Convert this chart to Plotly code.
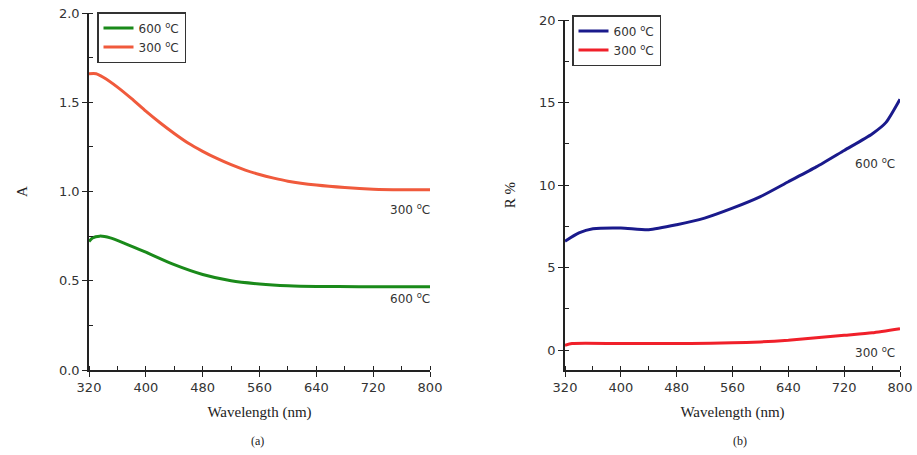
import plotly.graph_objects as go

wl_a300 = [320, 330, 340, 360, 380, 400, 420, 440, 460, 480, 500, 520, 540, 560, 580, 600, 640, 680, 720, 760, 800]
a_300 = [1.66, 1.66, 1.64, 1.585, 1.52, 1.45, 1.385, 1.325, 1.27, 1.225, 1.185, 1.15, 1.12, 1.095, 1.075, 1.058, 1.036, 1.022, 1.013, 1.01, 1.01]
wl_a600 = [320, 325, 335, 350, 370, 400, 440, 480, 520, 560, 600, 640, 700, 800]
a_600 = [0.72, 0.74, 0.75, 0.74, 0.71, 0.66, 0.59, 0.535, 0.50, 0.482, 0.472, 0.468, 0.467, 0.467]

wl_r600 = [320, 340, 360, 400, 440, 480, 520, 560, 600, 640, 680, 720, 760, 780, 800]
r_600 = [6.6, 7.1, 7.35, 7.4, 7.3, 7.6, 8.0, 8.6, 9.3, 10.2, 11.1, 12.1, 13.1, 13.8, 15.2]
wl_r300 = [320, 330, 400, 500, 560, 600, 640, 680, 720, 760, 800]
r_300 = [0.3, 0.4, 0.4, 0.4, 0.45, 0.5, 0.6, 0.75, 0.9, 1.05, 1.3]

x_ticks = [320, 400, 480, 560, 640, 720, 800]
a_ticks = [0.0, 0.5, 1.0, 1.5, 2.0]
r_ticks = [0, 5, 10, 15, 20]

W, H = 917, 455
def px(x): return x / W
def py(y): return 1 - y / H

tickfont = dict(family="DejaVu Sans", size=13, color="#333")
titlefont = dict(family="Liberation Serif", size=15, color="#222")

fig = go.Figure()
fig.add_trace(go.Scatter(x=wl_a600, y=a_600, mode="lines", name="600 <sup>o</sup>C",
                         line=dict(color="#1a8a1a", width=3, shape="spline", smoothing=0.6), xaxis="x", yaxis="y", legend="legend"))
fig.add_trace(go.Scatter(x=wl_a300, y=a_300, mode="lines", name="300 <sup>o</sup>C",
                         line=dict(color="#f05a3c", width=3, shape="spline", smoothing=0.6), xaxis="x", yaxis="y", legend="legend"))
fig.add_trace(go.Scatter(x=wl_r600, y=r_600, mode="lines", name="600 <sup>o</sup>C",
                         line=dict(color="#1a1a8c", width=3, shape="spline", smoothing=0.6), xaxis="x2", yaxis="y2", legend="legend2"))
fig.add_trace(go.Scatter(x=wl_r300, y=r_300, mode="lines", name="300 <sup>o</sup>C",
                         line=dict(color="#f0202a", width=3, shape="spline", smoothing=0.6), xaxis="x2", yaxis="y2", legend="legend2"))

axis_common = dict(showline=True, linecolor="#222", linewidth=1.5, ticks="outside", ticklen=5,
                   tickcolor="#222", showgrid=False, zeroline=False, tickfont=tickfont, automargin=False)
minor_x = dict(ticks="inside", ticklen=4, tickcolor="#222", dtick=40)

fig.update_layout(
    width=W, height=H, plot_bgcolor="white", paper_bgcolor="white",
    margin=dict(l=0, r=0, t=0, b=0), showlegend=True,
    xaxis=dict(domain=[px(89), px(430)], range=[320, 800], tickvals=x_ticks, anchor="y", minor=minor_x,
               title=dict(text="Wavelength (nm)", font=titlefont, standoff=12), **axis_common),
    yaxis=dict(domain=[py(370), py(13)], range=[0, 2.0], tickvals=a_ticks, tickformat=".1f", anchor="x",
               minor=dict(ticks="inside", ticklen=4, tickcolor="#222", dtick=0.25),
               title=dict(text="A", font=titlefont, standoff=28), **axis_common),
    xaxis2=dict(domain=[px(565), px(900)], range=[320, 800], tickvals=x_ticks, anchor="y2", minor=minor_x,
                title=dict(text="Wavelength (nm)", font=titlefont, standoff=12), **axis_common),
    yaxis2=dict(domain=[py(370), py(20)], range=[-1.2, 20], tickvals=r_ticks, anchor="x2",
                minor=dict(ticks="inside", ticklen=4, tickcolor="#222", dtick=2.5),
                title=dict(text="R %", font=titlefont, standoff=20), **axis_common),
    legend=dict(x=px(97), y=py(12), xanchor="left", yanchor="top", bordercolor="#333", borderwidth=1.5,
                font=dict(family="DejaVu Sans", size=12, color="#333"), tracegroupgap=0,
                itemwidth=30, bgcolor="white"),
    legend2=dict(x=px(572), y=py(15), xanchor="left", yanchor="top", bordercolor="#333", borderwidth=1.5,
                 font=dict(family="DejaVu Sans", size=12, color="#333"), tracegroupgap=0,
                 itemwidth=30, bgcolor="white"),
)

ann_font = dict(family="DejaVu Sans", size=12, color="#333")
for x, y, t in [(410, 209, "300 <sup>o</sup>C"), (410, 298, "600 <sup>o</sup>C"),
                (875, 163, "600 <sup>o</sup>C"), (875, 352, "300 <sup>o</sup>C")]:
    fig.add_annotation(x=px(x), y=py(y), xref="paper", yref="paper", text=t, showarrow=False, font=ann_font,
                       xanchor="center", yanchor="middle")
for x, t in [(257, "(a)"), (740, "(b)")]:
    fig.add_annotation(x=px(x), y=py(441), xref="paper", yref="paper", text=t, showarrow=False,
                       xanchor="center", yanchor="middle",
                       font=dict(family="Liberation Serif", size=12, color="#222"))

fig.write_html("out.html", config={"displayModeBar": False},
               post_script="document.body.style.margin='0';document.body.style.overflow='hidden';")
